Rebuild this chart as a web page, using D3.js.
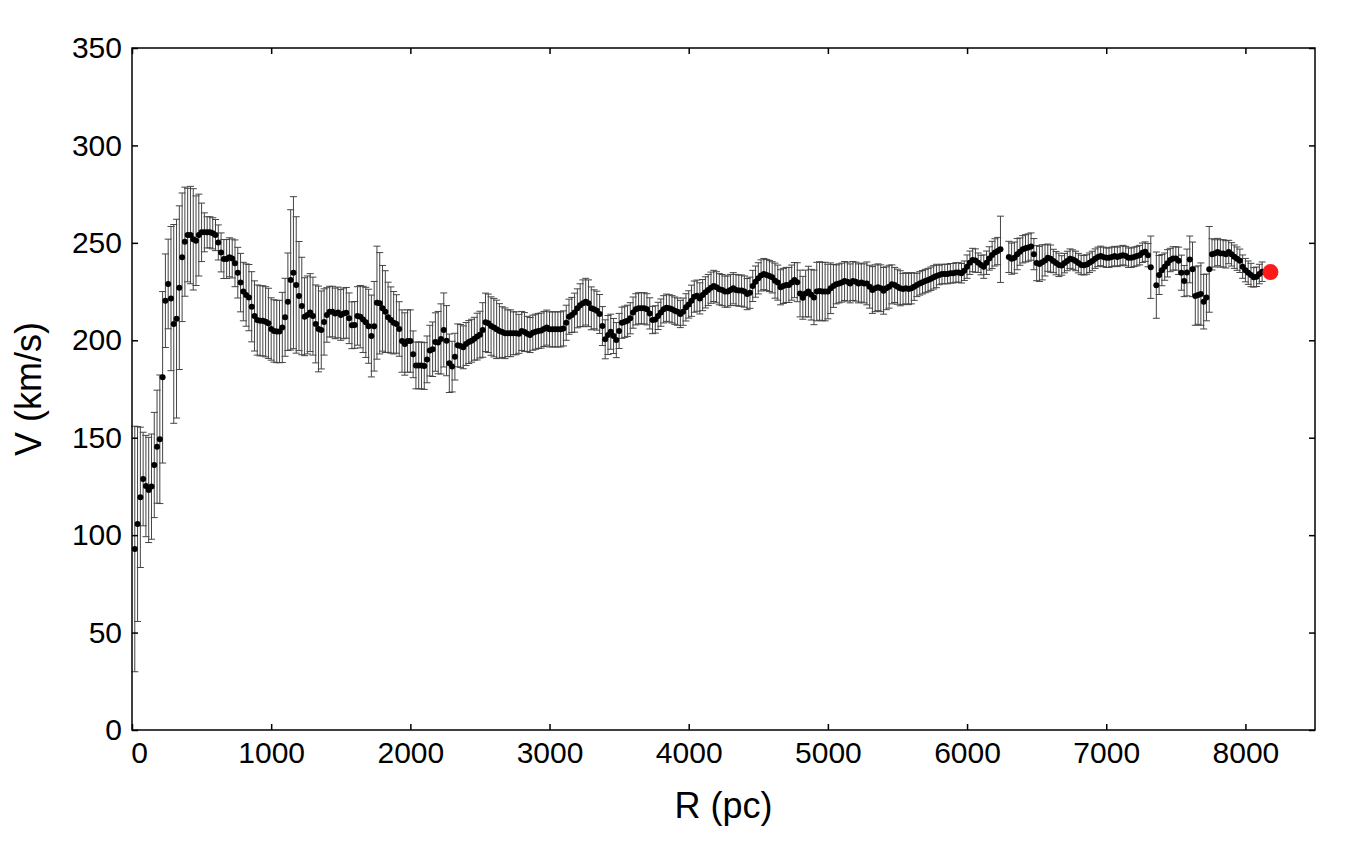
<!DOCTYPE html>
<html>
<head>
<meta charset="utf-8">
<script src="https://cdn.jsdelivr.net/npm/d3@7"></script>
<style>
  html, body { margin: 0; padding: 0; background: #fff; }
  svg { display: block; font-family: "Liberation Sans", Arial, sans-serif; }
</style>
</head>
<body>
<svg id="chart" width="1358" height="845"></svg>
<script>
// Galactocentric radius (pc) of each binned measurement
const radius = [
20,40,60,80,100,120,140,160,180,200,220,240,260,280,300,320,340,360,380,400,
420,440,460,480,500,520,540,560,580,600,620,640,660,680,700,720,740,760,780,800,
820,840,860,880,900,920,940,960,980,1000,1020,1040,1060,1080,1100,1120,1140,1160,1180,1200,
1220,1240,1260,1280,1300,1320,1340,1360,1380,1400,1420,1440,1460,1480,1500,1520,1540,1560,1580,1600,
1620,1640,1660,1680,1700,1720,1740,1760,1780,1800,1820,1840,1860,1880,1900,1920,1940,1960,1980,2000,
2020,2040,2060,2080,2100,2120,2140,2160,2180,2200,2220,2240,2260,2280,2300,2320,2340,2360,2380,2400,
2420,2440,2460,2480,2500,2520,2540,2560,2580,2600,2620,2640,2660,2680,2700,2720,2740,2760,2780,2800,
2820,2840,2860,2880,2900,2920,2940,2960,2980,3000,3020,3040,3060,3080,3100,3120,3140,3160,3180,3200,
3220,3240,3260,3280,3300,3320,3340,3360,3380,3400,3420,3440,3460,3480,3500,3520,3540,3560,3580,3600,
3620,3640,3660,3680,3700,3720,3740,3760,3780,3800,3820,3840,3860,3880,3900,3920,3940,3960,3980,4000,
4020,4040,4060,4080,4100,4120,4140,4160,4180,4200,4220,4240,4260,4280,4300,4320,4340,4360,4380,4400,
4420,4440,4460,4480,4500,4520,4540,4560,4580,4600,4620,4640,4660,4680,4700,4720,4740,4760,4780,4800,
4820,4840,4860,4880,4900,4920,4940,4960,4980,5000,5020,5040,5060,5080,5100,5120,5140,5160,5180,5200,
5220,5240,5260,5280,5300,5320,5340,5360,5380,5400,5420,5440,5460,5480,5500,5520,5540,5560,5580,5600,
5620,5640,5660,5680,5700,5720,5740,5760,5780,5800,5820,5840,5860,5880,5900,5920,5940,5960,5980,6000,
6020,6040,6060,6080,6100,6120,6140,6160,6180,6200,6220,6240,
6300,6320,6340,6360,6380,6400,6420,6440,6460,6480,6500,6520,6540,6560,6580,6600,6620,6640,6660,6680,
6700,6720,6740,6760,6780,6800,6820,6840,6860,6880,6900,6920,6940,6960,6980,7000,7020,7040,7060,7080,
7100,7120,7140,7160,7180,7200,7220,7240,7260,7280,7300,7320,
7360,7380,7400,7420,7440,7460,7480,7500,7520,7540,7560,7580,7600,7620,7640,7660,7680,7700,7720,7740,
7760,7780,7800,7820,7840,7860,7880,7900,7920,7940,7960,7980,8000,8020,8040,8060,8080,8100,8120
];

// Rotation velocity (km/s)
const velocity = [
92.9,105.7,119.4,128.8,125.2,123.2,124.9,136.0,145.4,149.2,181.0,220.3,228.9,221.4,208.4,211.1,227.0,242.6,250.6,254.0,
254.0,251.8,251.1,254.0,255.4,255.4,255.4,255.4,254.9,254.0,250.2,245.1,241.7,241.7,242.6,242.0,239.5,234.7,229.6,225.0,
223.2,221.9,217.2,212.5,210.4,210.0,210.0,209.5,208.7,205.8,204.8,204.5,204.5,206.6,211.8,219.8,231.0,234.7,228.4,222.7,
217.6,212.1,213.0,214.2,212.4,208.4,205.8,205.3,209.4,213.0,214.7,214.7,213.8,214.3,213.0,213.8,214.1,211.3,207.7,207.9,
212.5,212.1,210.7,209.2,207.2,202.2,207.2,219.3,219.0,216.4,214.7,211.8,210.4,209.0,208.4,205.8,199.6,198.1,199.6,199.6,
192.8,187.1,187.1,187.1,186.8,190.2,194.7,195.4,199.1,198.8,200.7,205.3,199.8,188.2,186.5,191.6,197.4,197.1,196.4,198.1,
199.1,199.8,200.8,201.9,202.9,205.3,209.2,208.7,207.3,206.5,205.6,204.8,204.2,203.6,203.6,203.6,203.6,203.6,203.3,204.8,
204.2,203.3,202.7,203.9,204.4,204.8,205.0,205.8,206.5,205.6,205.6,205.6,205.6,205.6,206.1,209.0,212.1,213.0,214.2,216.4,
218.0,219.0,219.8,219.0,216.4,215.9,215.2,213.5,207.3,200.5,202.7,204.4,202.2,200.1,204.8,209.0,209.5,210.0,211.3,214.2,
215.9,216.4,216.4,216.4,215.9,213.8,210.4,210.7,212.5,214.2,215.9,216.7,216.4,215.9,215.2,214.7,213.5,214.7,216.9,218.4,
220.3,222.4,222.9,221.5,223.2,224.6,225.8,227.0,227.9,227.2,226.2,225.8,225.0,225.0,225.8,226.7,225.8,225.5,225.5,225.0,
223.7,224.4,227.9,230.1,231.8,233.3,234.0,233.5,233.0,232.3,230.6,229.6,227.2,227.9,228.4,228.4,229.6,230.9,229.8,224.0,
221.8,224.0,225.0,223.4,222.0,225.0,225.3,225.0,225.0,225.0,226.7,227.9,228.7,229.2,229.6,230.4,230.1,229.2,230.4,230.1,
229.2,229.6,229.2,229.2,227.5,225.8,226.7,227.2,226.7,225.4,226.7,227.5,228.7,228.4,227.5,226.7,226.3,226.7,226.3,226.7,
227.5,228.4,229.2,229.8,230.4,230.9,231.6,232.3,233.0,233.5,234.0,234.0,234.0,234.4,234.4,234.8,234.8,234.4,235.7,237.8,
239.8,241.2,240.9,239.8,238.6,237.8,239.8,242.0,243.8,245.1,245.8,246.7,
242.8,241.9,242.4,244.2,245.5,246.7,247.2,247.6,248.1,244.2,239.6,239.2,240.0,241.0,242.4,241.9,240.7,239.6,238.7,238.4,
239.6,240.7,241.9,241.4,240.7,239.6,238.7,238.5,238.9,239.8,240.7,241.9,242.8,243.3,242.8,242.4,242.4,242.8,243.2,242.8,
243.3,243.7,243.2,242.4,242.4,242.8,243.2,243.7,244.9,245.5,243.7,237.5,
228.3,233.5,236.0,237.8,239.5,241.2,242.0,242.0,240.8,234.7,230.4,234.8,241.5,236.4,222.7,223.2,223.7,219.8,222.0,236.4,
244.1,244.6,245.3,244.6,244.6,244.1,245.3,244.1,242.9,241.9,240.8,237.8,236.0,234.7,233.5,232.3,232.6,234.0,235.2
];

// One-sigma uncertainty (km/s)
const verror = [
63,50,36,24,26,27,27,27,29,33,44,24,23,37,51,51,42,33,28,24,
25,26,23,21,15,10,8,8,8,8,9,10,10,10,10,10,12,13,15,15,
16,17,18,18,18,18,18,18,18,16,16,16,16,18,20,25,36,39,35,28,
25,20,20,20,20,20,22,20,17,14,13,13,13,13,13,13,13,13,12,12,
15,16,17,18,19,21,23,29,26,22,21,18,17,16,15,14,16,16,16,16,
12,12,12,12,12,12,13,14,15,16,18,19,18,15,13,12,11,11,11,11,
11,11,11,12,12,14,15,15,15,15,15,14,13,13,12,12,11,11,10,10,
10,9,9,9,9,9,9,9,9,9,9,9,9,9,9,9,9,9,10,10,
11,12,12,12,11,10,10,10,10,10,10,9,9,9,9,8,8,8,8,8,
8,8,8,8,8,8,7,7,7,7,7,7,7,7,7,7,7,7,7,7,
8,8,8,8,8,8,8,8,8,8,8,8,8,8,8,8,8,8,8,8,
8,8,8,8,8,8,8,8,8,8,9,9,9,9,9,9,9,9,10,12,
11,12,13,13,14,15,15,15,15,14,13,11,10,10,10,10,10,10,10,10,
10,10,10,11,11,12,12,12,12,12,11,11,10,9,9,9,8,8,8,8,
7,6,6,6,6,6,6,6,6,5,5,5,5,5,5,5,5,5,5,6,
6,6,6,5,5,6,6,6,7,7,7,17,
8,8,8,8,7,7,7,7,7,8,9,9,9,8,7,7,6,6,6,5,
5,5,5,5,5,5,5,5,5,5,5,5,5,5,5,5,5,5,5,5,
5,5,5,5,5,5,5,5,5,5,6,16,
17,10,8,7,7,6,6,6,7,9,8,12,12,14,15,15,16,14,12,22,
8,7,7,7,7,7,6,6,6,6,6,6,6,6,6,5,5,5,5
];

// Solar position marker
const sunRadius = [8180];
const sunVelocity = [235];

const xTicks = [0,1000,2000,3000,4000,5000,6000,7000,8000];
const yTicks = [0,50,100,150,200,250,300,350];

const points = radius.map((r, i) => ({ r, v: velocity[i], e: verror[i] }));

const svg = d3.select("#chart");
const L = 132, R = 1315, T = 48, B = 730;

const x = d3.scaleLinear().domain([0, 8500]).range([L, R]);
const y = d3.scaleLinear().domain([0, 350]).range([B, T]);

// error bars
const eb = svg.append("g").attr("stroke", "#444").attr("stroke-width", 1).attr("fill", "none");
const cap = 3.5;
points.forEach(d => {
  const cx = x(d.r);
  const y1 = y(d.v + d.e), y0 = y(d.v - d.e);
  eb.append("line").attr("x1", cx).attr("x2", cx).attr("y1", y1).attr("y2", y0);
  eb.append("line").attr("x1", cx - cap).attr("x2", cx + cap).attr("y1", y1).attr("y2", y1);
  eb.append("line").attr("x1", cx - cap).attr("x2", cx + cap).attr("y1", y0).attr("y2", y0);
});

// points
svg.append("g").selectAll("circle").data(points).join("circle")
  .attr("cx", d => x(d.r)).attr("cy", d => y(d.v)).attr("r", 3).attr("fill", "#000");

// sun
svg.append("g").selectAll("circle").data(sunRadius).join("circle")
  .attr("cx", (d) => x(d)).attr("cy", (d, i) => y(sunVelocity[i])).attr("r", 8).attr("fill", "#ff1a1a");

// axes
const fontTick = "30px";
const gx = svg.append("g").attr("transform", `translate(0,${B})`)
  .call(d3.axisBottom(x).tickValues(xTicks).tickFormat(d3.format("d")).tickSize(-6).tickPadding(12));
const gy = svg.append("g").attr("transform", `translate(${L},0)`)
  .call(d3.axisLeft(y).tickValues(yTicks).tickFormat(d3.format("d")).tickSize(-6).tickPadding(10));
const gt = svg.append("g").attr("transform", `translate(0,${T})`)
  .call(d3.axisTop(x).tickValues(xTicks).tickFormat("").tickSize(-6));
const gr = svg.append("g").attr("transform", `translate(${R},0)`)
  .call(d3.axisRight(y).tickValues(yTicks).tickFormat("").tickSize(-6));
[gx, gy, gt, gr].forEach(g => {
  g.select(".domain").remove();
  g.selectAll(".tick line").attr("stroke", "#000").attr("stroke-width", 1.5);
  g.selectAll("text").attr("font-size", fontTick).attr("fill", "#000")
    .attr("font-family", "'Liberation Sans', Arial, sans-serif");
});
// the "0" label under the origin sits a little to the right in the original
gx.selectAll(".tick text").filter(d => d === 0).attr("dx", 7);

svg.append("rect").attr("x", L).attr("y", T).attr("width", R - L).attr("height", B - T)
  .attr("fill", "none").attr("stroke", "#000").attr("stroke-width", 1.5);

// axis titles
svg.append("text").attr("x", (L + R) / 2).attr("y", 818).attr("text-anchor", "middle")
  .attr("font-size", "36px").text("R (pc)");
svg.append("text").attr("transform", `translate(41,${(T + B) / 2}) rotate(-90)`)
  .attr("text-anchor", "middle").attr("font-size", "36px").text("V (km/s)");
</script>
</body>
</html>
